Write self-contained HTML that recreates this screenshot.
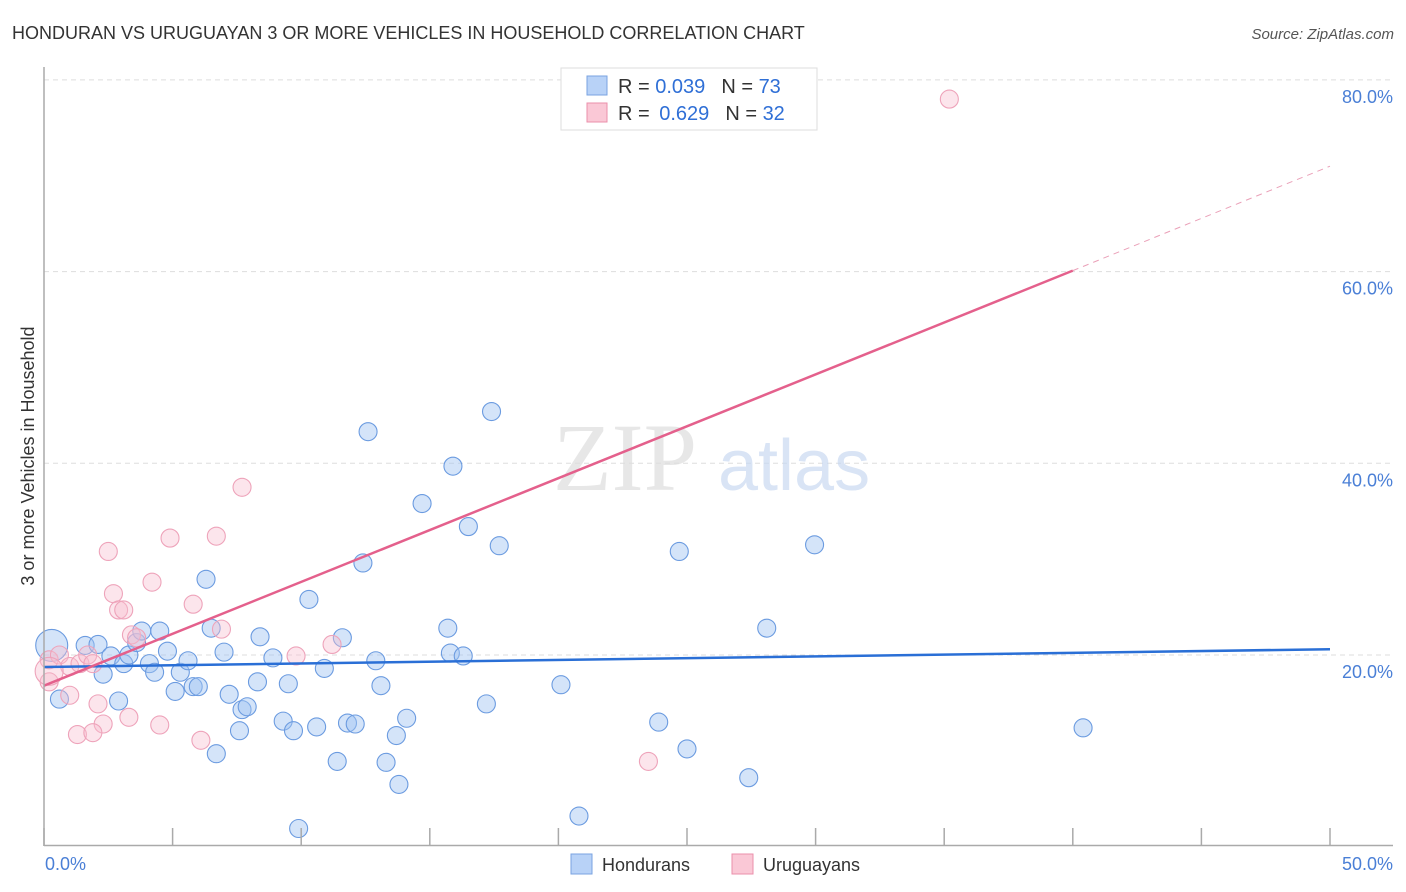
<!DOCTYPE html>
<html><head><meta charset="utf-8"><style>
body{margin:0;background:#fff;font-family:"Liberation Sans",sans-serif;}
svg{display:block}
</style></head><body>
<svg id="chart" width="1406" height="892" viewBox="0 0 1406 892" xmlns="http://www.w3.org/2000/svg">
<text x="12" y="39" font-size="18" fill="#333" font-family="Liberation Sans, sans-serif">HONDURAN VS URUGUAYAN 3 OR MORE VEHICLES IN HOUSEHOLD CORRELATION CHART</text>
<text x="1394" y="39" font-size="15" font-style="italic" fill="#555" text-anchor="end">Source: ZipAtlas.com</text>
<g id="grid"></g>
<g><text x="553" y="490" font-size="96" font-family="Liberation Serif, serif" fill="#ddd" opacity="0.7">ZIP</text><text x="718" y="490" font-size="72" fill="#c9d9f2" opacity="0.7">atlas</text></g>
<g id="pts"></g>
<g id="lines"></g>
<line x1="44" y1="67" x2="44" y2="846" stroke="#aaa" stroke-width="1.5"/>
<line x1="44" y1="845.5" x2="1393" y2="845.5" stroke="#aaa" stroke-width="1.5"/>
<g id="ticks"></g>
<text transform="translate(34,456) rotate(-90)" text-anchor="middle" font-size="18" fill="#333">3 or more Vehicles in Household</text>
<text x="45" y="870" font-size="18" fill="#4a7fd6">0.0%</text>
<text x="1393" y="870" font-size="18" fill="#4a7fd6" text-anchor="end">50.0%</text>
<g>
<rect x="561" y="68" width="256" height="62" fill="#fff" stroke="#ddd"/>
<rect x="587" y="76" width="20" height="19" fill="#b8d2f7" stroke="#7aa3e0"/>
<rect x="587" y="103" width="20" height="19" fill="#fac8d6" stroke="#eb8fab"/>
<text x="618" y="93" font-size="20" fill="#333">R = <tspan fill="#2f6fd6">0.039</tspan><tspan dx="16">N = </tspan><tspan fill="#2f6fd6">73</tspan></text>
<text x="618" y="120" font-size="20" fill="#333">R = <tspan fill="#2f6fd6" dx="4">0.629</tspan><tspan dx="16">N = </tspan><tspan fill="#2f6fd6">32</tspan></text>
</g>
<g>
<rect x="571" y="854" width="21" height="20" fill="#b8d2f7" stroke="#7aa3e0"/>
<text x="602" y="871" font-size="18" fill="#333">Hondurans</text>
<rect x="732" y="854" width="21" height="20" fill="#fac8d6" stroke="#eb8fab"/>
<text x="763" y="871" font-size="18" fill="#333">Uruguayans</text>
</g>
</svg>
<script>
const yTicks=[20,40,60,80];
const yTickLabels=["20.0%","40.0%","60.0%","80.0%"];
const xTicks=[0,5,10,15,20,25,30,35,40,45,50];
const blueX=[0.3,0.6,1.6,2.1,2.3,2.6,2.9,3.1,3.3,3.6,3.8,4.1,4.3,4.5,4.8,5.1,5.3,5.6,5.8,6.0,6.3,6.5,6.7,7.0,7.2,7.6,7.7,7.9,8.3,8.4,8.9,9.3,9.5,9.7,9.9,10.3,10.6,10.9,11.4,11.6,11.8,12.1,12.4,12.6,12.9,13.1,13.3,13.7,13.8,14.1,14.7,15.7,15.8,15.9,16.3,16.5,17.2,17.4,17.7,20.1,20.8,23.9,24.7,25.0,27.4,28.1,29.96,40.4];
const blueY=[21.0,15.4,21.0,21.1,18.0,19.9,15.2,19.1,20.0,21.3,22.5,19.1,18.2,22.5,20.4,16.2,18.2,19.4,16.7,16.7,27.9,22.8,9.7,20.3,15.9,12.1,14.3,14.6,17.2,21.9,19.7,13.1,17.0,12.1,1.9,25.8,12.5,18.6,8.9,21.8,12.9,12.8,29.6,43.3,19.4,16.8,8.8,11.6,6.5,13.4,35.8,22.8,20.2,39.7,19.9,33.4,14.9,45.4,31.4,16.9,3.2,13.0,30.8,10.2,7.2,22.8,31.5,12.4];
const pinkX=[35.2,7.7,6.7,4.9,2.5,4.2,2.7,2.9,3.1,5.8,6.9,3.4,3.6,9.8,11.2,0.2,0.6,1.0,1.4,1.7,1.9,0.2,1.0,2.1,2.3,3.3,4.5,1.3,1.9,6.1,23.5,0.2];
const pinkY=[78.0,37.5,32.4,32.2,30.8,27.6,26.4,24.7,24.7,25.3,22.7,22.1,21.8,19.9,21.1,19.5,20.0,18.8,19.1,20.0,19.1,17.2,15.8,14.9,12.8,13.5,12.7,11.7,11.9,11.1,8.9,18.3];
const blueTrend=[[0,18.75],[50,20.6]];
const pinkTrend=[[0,16.8],[40,60.1]];
const pinkDash=[[40,60.1],[50,71]];
const X=v=>44+v*25.72, Y=v=>846.7-v*9.585;
const NS="http://www.w3.org/2000/svg";
function mk(t,a,p){const e=document.createElementNS(NS,t);for(const k in a)e.setAttribute(k,a[k]);p.appendChild(e);return e;}
const grid=document.getElementById('grid'),ticks=document.getElementById('ticks'),pts=document.getElementById('pts'),lines=document.getElementById('lines');
yTicks.forEach((t,i)=>{const l=mk('line',{x1:44,x2:1393,y1:Y(t),y2:Y(t),stroke:'#ddd','stroke-dasharray':'5,4'},grid);


const tx=mk('text',{x:1393,y:Y(t)+23,'font-size':18,fill:'#4a7fd6','text-anchor':'end'},ticks);tx.textContent=yTickLabels[i];

});
xTicks.forEach(t=>{const l=mk('line',{x1:X(t),x2:X(t),y1:828,y2:846,stroke:'#aaa','stroke-width':1.5},ticks);

});
blueX.forEach((x,i)=>{const r=i==0?16:9;const c=mk('circle',{cx:X(x),cy:Y(blueY[i]),r:r,fill:'rgba(160,196,242,0.45)',stroke:'#6b9be0','stroke-width':1.1},pts);

});
pinkX.forEach((x,i)=>{const r=i==pinkX.length-1?14:9;const c=mk('circle',{cx:X(x),cy:Y(pinkY[i]),r:r,fill:'rgba(248,190,208,0.4)',stroke:'#eea3ba','stroke-width':1.1},pts);

});
const b=mk('line',{x1:X(blueTrend[0][0]),y1:Y(blueTrend[0][1]),x2:X(blueTrend[1][0]),y2:Y(blueTrend[1][1]),stroke:'#2a6fd6','stroke-width':2.5},lines);


const p=mk('line',{x1:X(pinkTrend[0][0]),y1:Y(pinkTrend[0][1]),x2:X(pinkTrend[1][0]),y2:Y(pinkTrend[1][1]),stroke:'#e4608c','stroke-width':2.5},lines);


const d=mk('line',{x1:X(pinkDash[0][0]),y1:Y(pinkDash[0][1]),x2:X(pinkDash[1][0]),y2:Y(pinkDash[1][1]),stroke:'#eaa0b8','stroke-width':1,'stroke-dasharray':'6,5'},lines);


</script>
</body></html>
